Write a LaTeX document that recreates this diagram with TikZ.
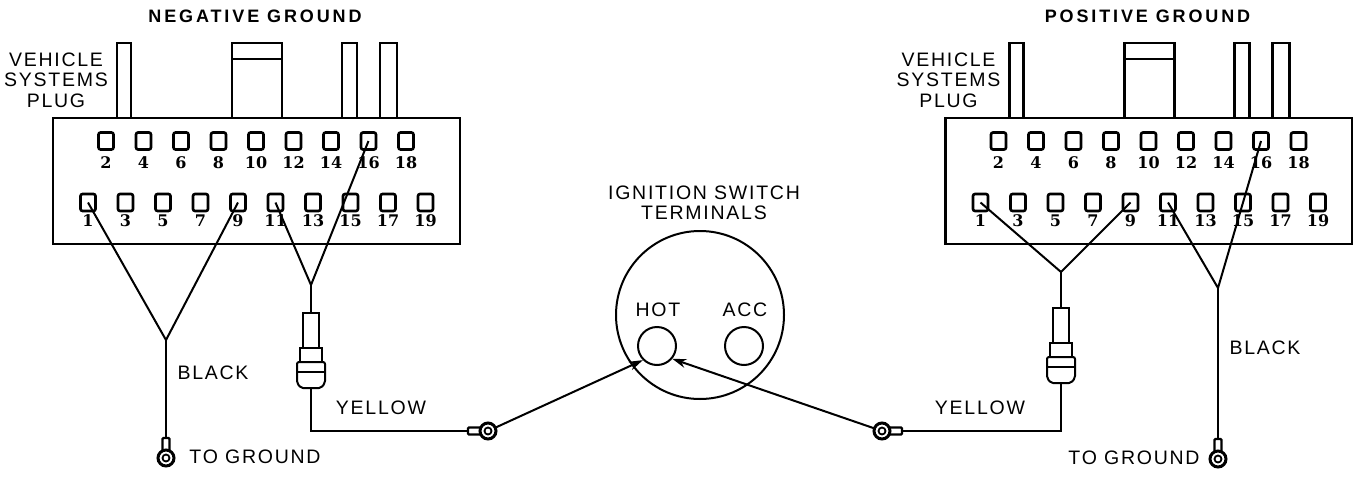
\documentclass[tikz,border=0pt]{standalone}
\usepackage{fontspec}
\newfontfamily\lblfont[LetterSpace=9]{Liberation Sans}
\newfontfamily\ttlfont[LetterSpace=16]{Liberation Sans}
\newfontfamily\numfont{DejaVu Serif}
\usetikzlibrary{arrows.meta}
\tikzset{Pin/.style={draw,line width=2.6pt,rounded corners=2pt,minimum width=15pt,minimum height=17pt,inner sep=0pt},
  Num/.style={font=\numfont\bfseries\fontsize{16}{16}\selectfont,inner sep=0pt},
  Lbl/.style={font=\lblfont\fontsize{19.5}{20.5}\selectfont,inner sep=0pt},
  Ttl/.style={font=\ttlfont\bfseries\fontsize{18}{18}\selectfont,inner sep=0pt},
  Term/.style={draw,circle,line width=2pt,inner sep=0pt},
  Wire/.style={line width=2pt}}
\tikzset{Ring/.pic={
    \draw[line width=2.2pt,fill=white,rounded corners=1pt] (-3.5,-20) rectangle (3.5,-6);
    \draw[line width=3pt,fill=white] (0,0) circle (8pt);
    \draw[line width=1.8pt] (0,0) circle (3.5pt);},
  Sock/.pic={
    \draw[line width=2pt,fill=white] (-8,0) rectangle (8,35);
    \draw[line width=2pt,fill=white] (-11,35) rectangle (11,49);
    \draw[line width=2pt,fill=white,rounded corners=2pt] (-14,49) -- (14,49) -- (14,70) -- (10,75) -- (-10,75) -- (-14,70) -- cycle;
    \draw[line width=2pt] (-14,59) -- (14,59);}}

\begin{document}
\begin{tikzpicture}[x={(1pt,0)},y={(0,-1pt)}]
  \useasboundingbox (0,0) rectangle (1353,477);
  % the two plugs
  \foreach \p/\dx/\ttl in {L/0/NEGATIVE GROUND,R/892.5/POSITIVE GROUND} {
    \begin{scope}[xshift=\dx pt,line width=2.4pt]
      \draw (53,118) rectangle (460,244);
      \draw (117,118) |- (131,43) -- (131,118);
      \draw (232,118) |- (282,43) -- (282,118);
      \draw (232,59) -- (282,59);
      \draw (342,118) |- (357,43) -- (357,118);
      \draw (380,118) |- (397,43) -- (397,118);
      \node[Ttl] (t\p) at (255,16) {\ttl};
      \node[Lbl,align=center] (v\p) at (56,80) {VEHICLE\\SYSTEMS\\PLUG};
      \foreach \n [count=\k from 0] in {2,4,...,18} {
        \node[Pin] (\p\n) at (106+37.5*\k,141) {};
        \node[Num] (n\p\n) at (106+37.5*\k,163) {\n};
      }
      \foreach \n [count=\k from 0] in {1,3,...,19} {
        \node[Pin] (\p\n) at (88+37.5*\k,202.5) {};
        \node[Num] (n\p\n) at (88+37.5*\k,221) {\n};
      }
    \end{scope}
  }
  % ignition switch
  \node[Term,minimum size=168pt] (sw) at (700,315) {};
  \node[Term,minimum size=38pt] (hot) at (657,346) {};
  \node[Term,minimum size=38pt] (acc) at (744,346) {};
  \node[Lbl] (hotl) at (658,310) {HOT};
  \node[Lbl] (accl) at (745,310) {ACC};
  \node[Lbl,align=center] (swl) at (704,203) {IGNITION SWITCH\\TERMINALS};
  % wires
  \coordinate (jA) at (166,340);
  \coordinate (jB) at (311,285);
  \coordinate (jC) at (1061,272);
  \coordinate (jD) at (1218,288);
  \coordinate (gL) at (166,438);
  \coordinate (gR) at (1218,439);
  \coordinate (cL) at (311,313);
  \coordinate (cLb) at (311,388);
  \coordinate (cR) at (1061,308);
  \coordinate (cRb) at (1061,383);
  \coordinate (yL) at (488,431);
  \coordinate (yLn) at (468,431);
  \coordinate (yR) at (882,431);
  \coordinate (yRn) at (902,431);
  \begin{scope}[Wire]
    \draw (L1.center) -- (jA) -- (L9.center);
    \draw (jA) -- (gL);
    \draw (L11.center) -- (jB) -- (L16.center);
    \draw (jB) -- (cL);
    \draw (cLb) |- (yLn);
    \draw (R1.center) -- (jC) -- (R9.center);
    \draw (jC) -- (cR);
    \draw (cRb) |- (yRn);
    \draw (R11.center) -- (jD) -- (R16.center);
    \draw (jD) -- (gR);
  \end{scope}
  \begin{scope}[Wire,-{Stealth[length=14pt,width=9pt]}]
    \draw (yL) -- (hot.225);
    \draw (yR) -- (hot.320);
  \end{scope}
  \pic at (cL) {Sock};
  \pic at (cR) {Sock};
  \pic at (166,458) {Ring};
  \pic at (1218,459) {Ring};
  \pic[rotate=90] at (yL) {Ring};
  \pic[rotate=-90] at (yR) {Ring};
  % labels
  \node[Lbl] (bkL) at (213,373) {BLACK};
  \node[Lbl] (bkR) at (1265,348) {BLACK};
  \node[Lbl] (ywL) at (381,408) {YELLOW};
  \node[Lbl] (ywR) at (980,408) {YELLOW};
  \node[Lbl] (tgL) at (255,457) {TO GROUND};
  \node[Lbl] (tgR) at (1134,458) {TO GROUND};
\end{tikzpicture}
\end{document}
